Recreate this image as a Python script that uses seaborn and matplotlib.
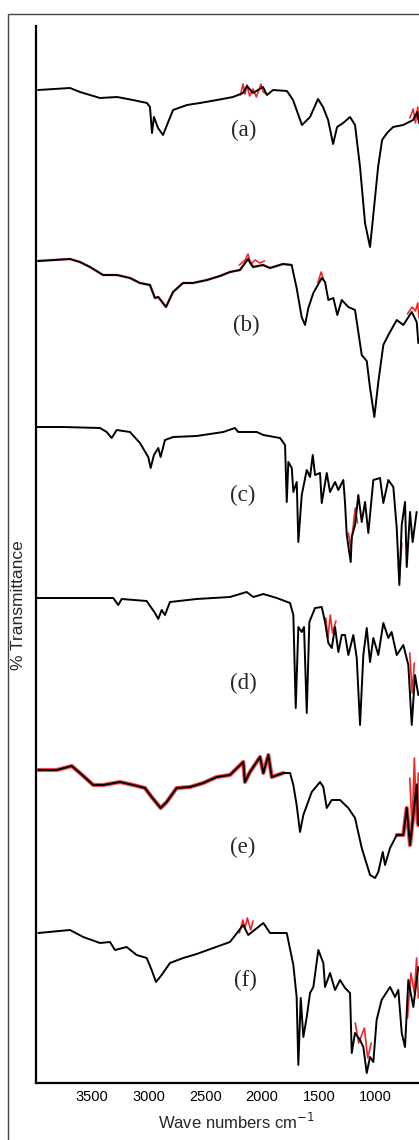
import matplotlib
matplotlib.use("Agg")
import matplotlib.pyplot as plt
import seaborn as sns
from matplotlib.patches import Rectangle

sns.set_style("white")
plt.rcParams["font.family"] = ["Liberation Sans", "DejaVu Sans"]

# ---------------- data (wavenumber cm-1, stacked % transmittance) ----------------
panel_labels = ["(a)", "(b)", "(c)", "(d)", "(e)", "(f)"]
label_wn = [2158, 2141, 2168, 2168, 2174, 2150]
label_t = [95.3, 75.8, 58.8, 40.0, 23.6, 10.3]

wn_a = [3972, 3691, 3603, 3427, 3277, 3136, 3013, 2987, 2969, 2952, 2916, 2872, 2837, 2784,
        2661, 2547, 2397, 2256, 2168, 2133, 2080, 1992, 1957, 1904, 1781, 1728, 1649, 1578,
        1508, 1464, 1419, 1375, 1340, 1287, 1226, 1182, 1138, 1094, 1050, 1023, 979, 944,
        900, 847, 759, 671, 636, 619]
t_a = [99.3, 99.5, 99.1, 98.5, 98.6, 98.3, 98.0, 97.6, 95.0, 96.6, 95.5, 94.8, 95.8, 97.3,
       97.8, 98.0, 98.3, 98.6, 99.0, 99.7, 99.0, 99.6, 98.8, 99.3, 99.2, 98.3, 95.8, 96.6,
       98.4, 97.6, 96.3, 93.9, 95.6, 96.0, 96.6, 95.8, 91.6, 86.0, 83.6, 86.6, 91.6, 94.3,
       95.0, 95.6, 95.8, 96.3, 97.1, 96.0]

wn_b = [3973, 3691, 3603, 3515, 3400, 3277, 3163, 3075, 2987, 2943, 2914, 2846, 2784, 2696,
        2608, 2485, 2371, 2283, 2195, 2124, 2080, 1992, 1930, 1816, 1740, 1696, 1652, 1622,
        1593, 1549, 1475, 1446, 1417, 1373, 1338, 1299, 1241, 1182, 1123, 1079, 1050, 1012,
        977, 933, 889, 815, 757, 683, 639, 625]
t_b = [82.2, 82.4, 82.1, 81.6, 80.8, 80.8, 80.5, 80.0, 79.8, 78.5, 78.6, 77.6, 79.1, 80.0,
       80.0, 80.3, 80.7, 81.1, 81.3, 82.4, 81.6, 81.8, 81.5, 81.9, 81.8, 79.5, 76.6, 75.8,
       77.5, 79.0, 80.5, 80.1, 78.3, 78.5, 76.8, 78.3, 77.6, 77.3, 72.8, 72.2, 69.5, 66.6,
       70.1, 73.8, 74.8, 76.3, 75.8, 77.1, 76.1, 74.0]

wn_c = [3990, 3750, 3427, 3368, 3324, 3280, 3163, 3075, 3002, 2981, 2952, 2914, 2893, 2855,
        2782, 2576, 2342, 2239, 2210, 2047, 1989, 1842, 1798, 1783, 1769, 1739, 1725, 1695,
        1681, 1651, 1607, 1578, 1554, 1534, 1490, 1475, 1431, 1402, 1358, 1329, 1285, 1270,
        1255, 1220, 1211, 1182, 1153, 1123, 1094, 1065, 1021, 962, 933, 889, 845, 815, 792,
        771, 742, 727, 698, 675, 640]
t_c = [65.6, 65.6, 65.5, 65.1, 64.5, 65.3, 65.1, 64.0, 62.6, 61.5, 62.8, 63.5, 62.6, 64.3,
       64.6, 64.7, 65.1, 65.5, 65.1, 65.1, 64.8, 64.5, 63.8, 58.1, 62.1, 61.5, 59.1, 60.1,
       54.1, 58.8, 61.3, 60.6, 62.8, 60.8, 61.0, 58.0, 61.0, 59.1, 60.1, 59.3, 60.3, 58.0,
       54.8, 52.1, 54.6, 55.8, 58.8, 56.1, 58.1, 55.0, 60.3, 60.5, 58.0, 60.3, 59.6, 55.5, 49.8,
       55.8, 58.1, 51.6, 57.1, 54.1, 57.1]

wn_d = [3984, 3310, 3266, 3236, 3016, 2943, 2914, 2884, 2855, 2811, 2576, 2283, 2136, 2077,
        1989, 1871, 1754, 1725, 1704, 1681, 1651, 1631, 1607, 1584, 1534, 1475, 1446, 1417,
        1387, 1358, 1329, 1299, 1270, 1241, 1197, 1167, 1138, 1109, 1079, 1050, 1021, 977,
        933, 889, 860, 815, 757, 713, 683, 654, 625]
t_d = [48.5, 48.5, 47.8, 48.4, 48.2, 47.0, 46.4, 47.3, 46.8, 48.1, 48.4, 48.6, 49.1, 48.6,
       48.9, 48.5, 48.0, 46.8, 37.5, 45.6, 45.1, 45.6, 37.0, 46.1, 47.5, 47.6, 46.1, 44.0,
       43.5, 45.6, 43.1, 44.8, 44.8, 42.8, 44.8, 42.5, 35.8, 42.8, 45.5, 42.1, 44.5, 42.8,
       46.0, 44.5, 45.1, 42.8, 43.8, 41.8, 35.8, 40.8, 38.8]

wn_e = [3970, 3808, 3676, 3603, 3486, 3398, 3251, 3134, 3031, 2972, 2893, 2840, 2752, 2635,
        2518, 2400, 2283, 2166, 2151, 2107, 2018, 1989, 1945, 1915, 1813, 1754, 1725, 1696,
        1666, 1637, 1563, 1490, 1461, 1431, 1387, 1314, 1241, 1182, 1123, 1050, 1006, 977,
        938, 918, 874, 815, 757, 727, 698, 669, 640, 625]
t_e = [31.3, 31.3, 31.7, 31.0, 29.8, 29.8, 30.1, 29.8, 29.5, 28.6, 27.5, 28.1, 29.5, 29.6,
       30.0, 30.6, 30.8, 32.1, 30.1, 31.1, 32.6, 31.0, 32.8, 30.6, 31.0, 31.0, 29.8, 27.8,
       25.1, 26.8, 29.1, 30.1, 29.6, 27.5, 28.3, 28.3, 27.5, 26.5, 23.5, 20.8, 20.5, 21.1,
       23.1, 21.8, 23.5, 24.8, 24.8, 27.5, 23.8, 26.8, 29.8, 25.8]

wn_f = [3970, 3691, 3574, 3427, 3339, 3295, 3192, 3104, 3016, 2972, 2934, 2884, 2811, 2694,
        2576, 2430, 2283, 2166, 2122, 1989, 1930, 1783, 1725, 1696, 1681, 1660, 1637, 1607,
        1578, 1549, 1505, 1461, 1446, 1402, 1358, 1314, 1270, 1226, 1211, 1182, 1138, 1109,
        1079, 1050, 1021, 992, 948, 874, 830, 801, 771, 742, 713, 669, 625]
t_f = [15.0, 15.3, 14.6, 14.0, 14.1, 13.3, 13.6, 12.8, 12.5, 11.3, 10.1, 10.8, 12.0, 12.5,
       12.9, 13.5, 14.1, 15.8, 14.8, 16.0, 15.0, 15.0, 11.8, 8.6, 1.8, 8.5, 4.6, 6.6,
       9.0, 9.6, 13.3, 12.0, 9.6, 11.0, 9.3, 10.3, 9.5, 9.0, 3.0, 5.0, 4.3, 3.6,
       1.0, 2.6, 2.1, 6.3, 8.3, 9.6, 8.6, 9.3, 5.0, 3.6, 10.3, 7.6, 11.6]

# replicate scans (red), only where they visibly differ from the mean trace
red_wn_a = [2190, 2168, 2150, 2133, 2110, 2080, 2050, 2010, 1990, 1960]
red_t_a = [98.8, 99.9, 98.9, 99.8, 98.7, 99.4, 98.6, 99.9, 99.1, 98.9]
red_wn_a2 = [700, 670, 650, 630, 619]
red_t_a2 = [96.5, 97.4, 96.0, 97.6, 96.2]

red_wn_b = [2200, 2150, 2124, 2100, 2060, 2020, 1980]
red_t_b = [81.8, 82.3, 82.9, 81.9, 82.3, 82.0, 82.2]
red_wn_b2 = [1510, 1480, 1455]
red_t_b2 = [80.0, 81.1, 80.2]
red_wn_b3 = [720, 680, 650, 630, 619]
red_t_b3 = [76.9, 77.6, 77.2, 78.0, 76.5]

red_wn_c = [1240, 1220, 1200, 1180, 1160]
red_t_c = [55.0, 53.5, 55.5, 57.5, 56.0]
red_wn_c2 = [800, 790, 770]
red_t_c2 = [52.0, 50.5, 54.0]

red_wn_d = [1440, 1420, 1400, 1380, 1350]
red_t_d = [46.5, 44.5, 46.8, 45.0, 46.2]
red_wn_d2 = [700, 680, 660]
red_t_d2 = [43.0, 39.0, 42.0]

red_wn_e = [700, 680, 660, 640, 625]
red_t_e = [30.5, 25.5, 32.5, 26.0, 31.0]

red_wn_f = [2200, 2170, 2150, 2130, 2100, 2080]
red_t_f = [15.0, 16.3, 15.5, 16.5, 15.3, 16.2]
red_wn_f2 = [1180, 1150, 1100, 1070, 1040]
red_t_f2 = [6.0, 4.0, 5.5, 2.5, 4.0]
red_wn_f3 = [720, 690, 660, 640, 625]
red_t_f3 = [6.5, 11.0, 9.0, 12.5, 8.5]

xticks = [3500, 3000, 2500, 2000, 1500, 1000]

# ---------------- figure ----------------
W, H = 419, 1140
fig = plt.figure(figsize=(W / 100, H / 100), dpi=100)
ax = fig.add_axes([36 / W, (H - 1083) / H, 1 - 36 / W, (1083 - 26) / H])

red = "#f0262a"
traces = [(wn_a, t_a), (wn_b, t_b), (wn_c, t_c), (wn_d, t_d), (wn_e, t_e), (wn_f, t_f)]
reds = [(red_wn_a, red_t_a), (red_wn_a2, red_t_a2),
        (red_wn_b, red_t_b), (red_wn_b2, red_t_b2), (red_wn_b3, red_t_b3),
        (red_wn_c, red_t_c), (red_wn_c2, red_t_c2),
        (red_wn_d, red_t_d), (red_wn_d2, red_t_d2),
        (red_wn_e, red_t_e),
        (red_wn_f, red_t_f), (red_wn_f2, red_t_f2), (red_wn_f3, red_t_f3)]

# red halo where the noisy (e) replicates spread (high-wavenumber part and far end)
sns.lineplot(x=wn_e[:25], y=t_e[:25], ax=ax, color=red, lw=3.0, sort=False,
             estimator=None, alpha=0.85)
sns.lineplot(x=wn_e[-7:], y=t_e[-7:], ax=ax, color=red, lw=3.0, sort=False,
             estimator=None, alpha=0.85)
sns.lineplot(x=wn_b[:25], y=t_b[:25], ax=ax, color=red, lw=1.9, sort=False,
             estimator=None, alpha=0.5)
for rx, ry in reds:
    sns.lineplot(x=rx, y=ry, ax=ax, color=red, lw=1.2, sort=False, estimator=None)
for wx, ty in traces:
    sns.lineplot(x=wx, y=ty, ax=ax, color="black", lw=1.4, sort=False, estimator=None)

for lab, lx, ly in zip(panel_labels, label_wn, label_t):
    ax.text(lx, ly, lab, ha="center", va="center", fontsize=16.5,
            family=["Liberation Serif", "DejaVu Serif"])

ax.set_xlim(3990, 619)
ax.set_ylim(0, 105.7)
ax.set_xticks(xticks)
ax.set_xticklabels([str(v) for v in xticks])
ax.set_yticks([])
ax.set_xlabel("")
ax.set_ylabel("")
ax.tick_params(axis="x", direction="in", length=3, width=1, pad=5, labelsize=10.5,
               colors="black")
for s in ["top", "right"]:
    ax.spines[s].set_visible(False)
for s in ["left", "bottom"]:
    ax.spines[s].set_color("black")
    ax.spines[s].set_linewidth(1.6)
ax.patch.set_alpha(0)

fig.text(236 / W, (H - 1122) / H, "Wave numbers cm$^{-1}$", ha="center", va="center",
         fontsize=12)
fig.text(19 / W, (H - 605) / H, "% Transmittance", rotation=90, ha="center", va="center",
         fontsize=12.5)

fig.patches.append(Rectangle((8 / W, -0.1), 2, (H - 14) / H + 0.1, transform=fig.transFigure,
                             fill=False, edgecolor="#444444", lw=1.0))

fig.savefig("out.png", dpi=100)
